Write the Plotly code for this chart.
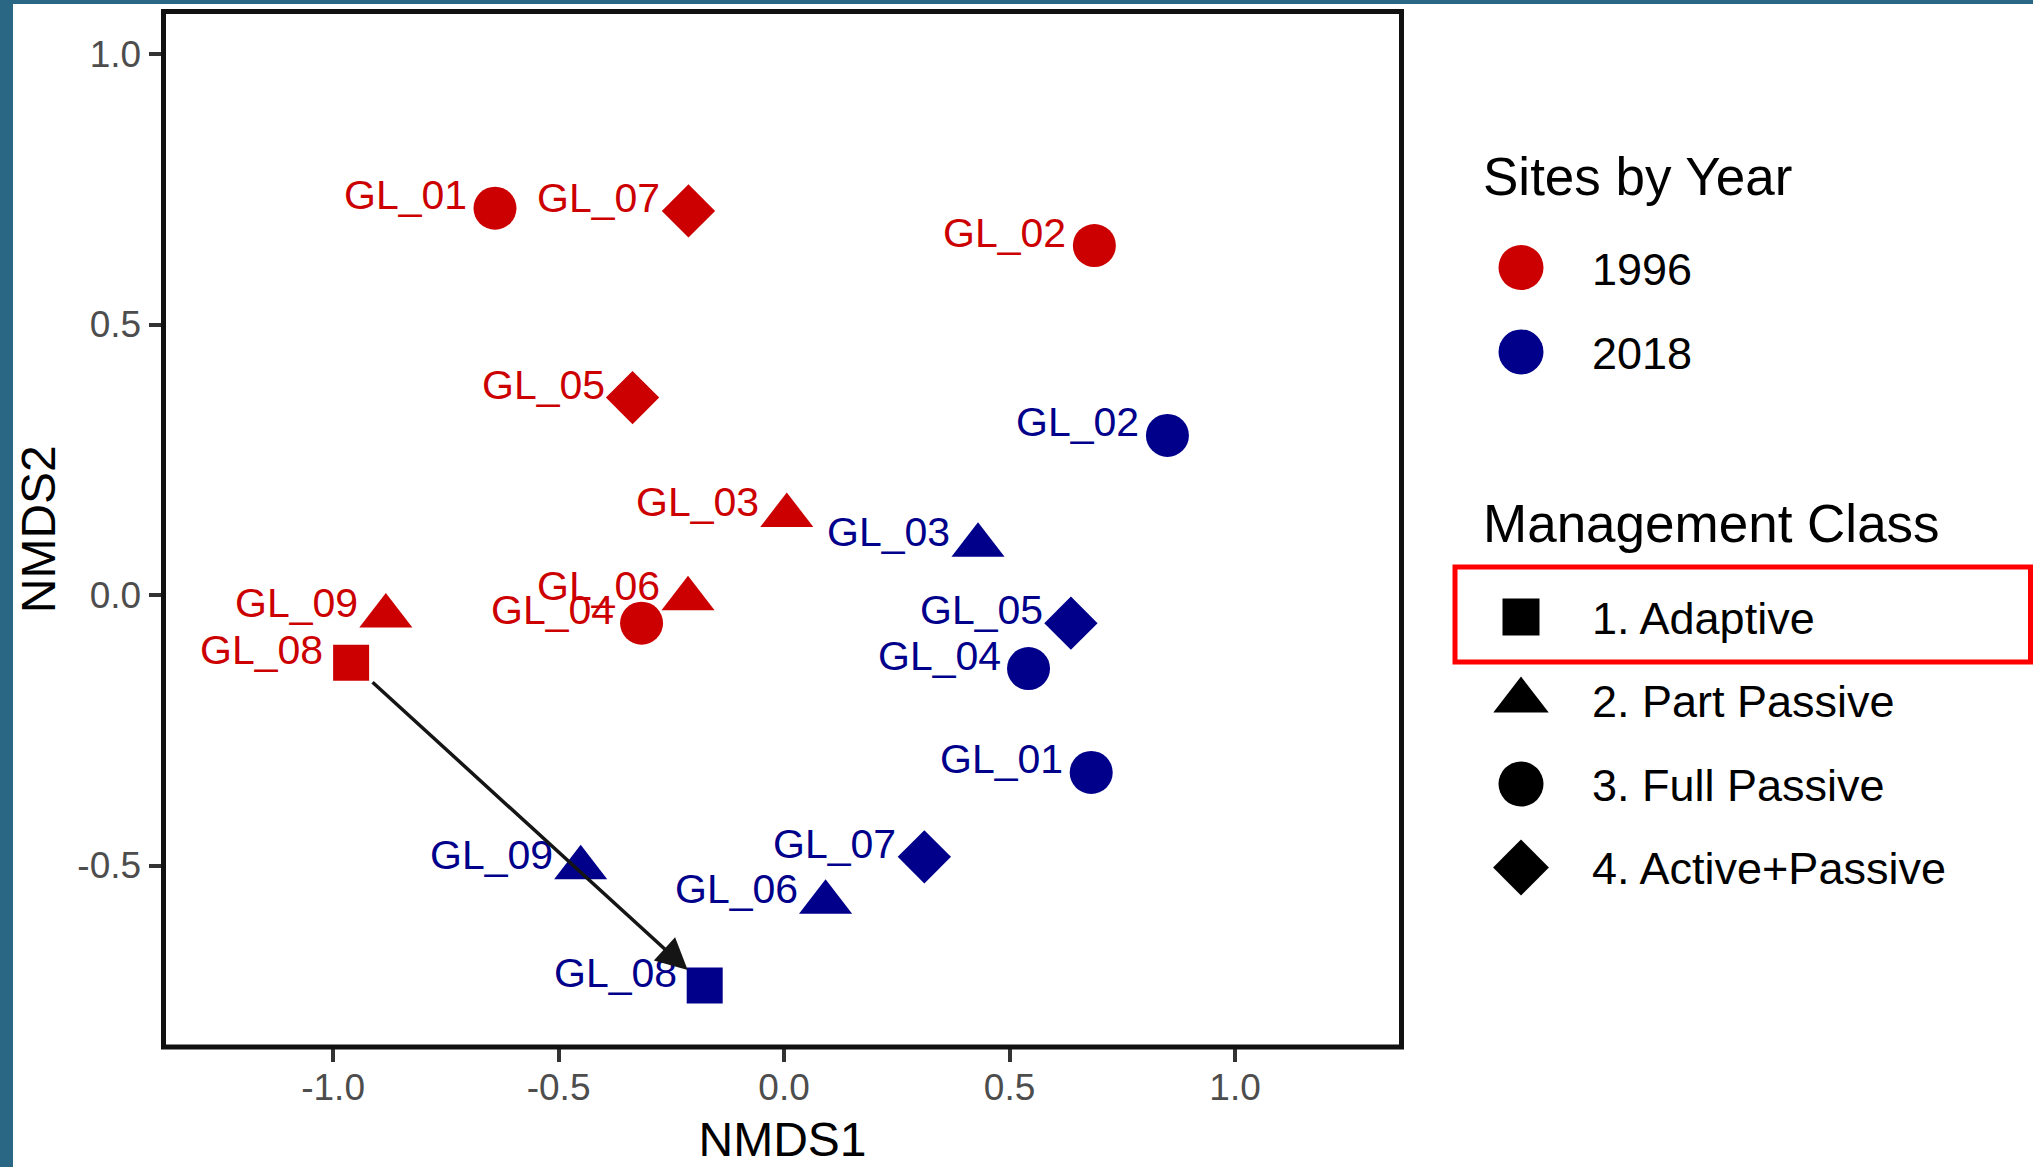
import plotly.graph_objects as go

# ---------------- data ----------------
sites = ["GL_01", "GL_02", "GL_03", "GL_04", "GL_05", "GL_06", "GL_07", "GL_08", "GL_09"]
site_class = ["3. Full Passive", "3. Full Passive", "2. Part Passive", "3. Full Passive",
              "4. Active+Passive", "2. Part Passive", "4. Active+Passive", "1. Adaptive",
              "2. Part Passive"]
nmds1_1996 = [-0.641, 0.688, 0.006, -0.316, -0.336, -0.213, -0.212, -0.960, -0.883]
nmds2_1996 = [0.715, 0.646, 0.147, -0.052, 0.365, -0.007, 0.710, -0.125, -0.039]
nmds1_2018 = [0.681, 0.850, 0.430, 0.542, 0.636, 0.092, 0.311, -0.176, -0.451]
nmds2_2018 = [-0.328, 0.295, 0.092, -0.136, -0.052, -0.568, -0.484, -0.722, -0.504]
years = ["1996", "2018"]
classes = ["1. Adaptive", "2. Part Passive", "3. Full Passive", "4. Active+Passive"]
x_ticks = [-1.0, -0.5, 0.0, 0.5, 1.0]
y_ticks = [-0.5, 0.0, 0.5, 1.0]
arrow_site = "GL_08"

# ---------------- style ----------------
W, H = 2033, 1167
FONT = "Liberation Sans, Arial, sans-serif"
year_color = {"1996": "#CC0000", "2018": "#00008B"}
class_symbol = {"1. Adaptive": "square", "2. Part Passive": "triangle-up",
                "3. Full Passive": "circle", "4. Active+Passive": "diamond"}
main_size = {"square": 36, "triangle-up": 46, "circle": 43, "diamond": 41}
leg_size = {"square": 37, "triangle-up": 48, "circle": 45, "diamond": 43}

# panel in pixels (from top-left)
PL, PR, PT, PB = 163.5, 1401.5, 11.5, 1047.0
LEG_L = 1420  # left edge (px) of the legend area

fig = go.Figure()

year_data = {"1996": (nmds1_1996, nmds2_1996), "2018": (nmds1_2018, nmds2_2018)}
annotations = []
for yr in years:
    xs, ys = year_data[yr]
    syms = [class_symbol[c] for c in site_class]
    fig.add_trace(go.Scatter(
        x=xs, y=ys, mode="markers", showlegend=False, hoverinfo="skip",
        marker=dict(symbol=syms, size=[main_size[s] for s in syms],
                    color=year_color[yr], opacity=1, line=dict(width=0)),
        xaxis="x", yaxis="y", cliponaxis=False))
    for s, xv, yv in zip(sites, xs, ys):
        annotations.append(dict(
            x=xv, y=yv, xref="x", yref="y", text=s, showarrow=False,
            xanchor="right", yanchor="middle", xshift=-26, yshift=13,
            font=dict(family=FONT, size=41, color=year_color[yr])))

# arrow between the two GL_08 positions
i8 = sites.index(arrow_site)
annotations.append(dict(
    x=nmds1_2018[i8], y=nmds2_2018[i8], ax=nmds1_1996[i8], ay=nmds2_1996[i8],
    xref="x", yref="y", axref="x", ayref="y", text="", showarrow=True,
    arrowhead=2, arrowsize=1.8, arrowwidth=3.5, arrowcolor="#151515",
    standoff=23, startstandoff=27))

# ---------------- manual legend (pixel space axis) ----------------
KEY_X = 1521
TEXT_X = 1590
YEAR_Y0, YEAR_GAP = 267.5, 84.4
CLASS_Y0, CLASS_GAP = 617.0, 83.5

fig.add_trace(go.Scatter(
    x=[KEY_X] * len(years), y=[YEAR_Y0 + i * YEAR_GAP for i in range(len(years))],
    mode="markers", showlegend=False, hoverinfo="skip",
    marker=dict(symbol="circle", size=45, color=[year_color[y] for y in years],
                opacity=1, line=dict(width=0)),
    xaxis="x2", yaxis="y2"))
fig.add_trace(go.Scatter(
    x=[KEY_X] * len(classes), y=[CLASS_Y0 + i * CLASS_GAP for i in range(len(classes))],
    mode="markers", showlegend=False, hoverinfo="skip",
    marker=dict(symbol=[class_symbol[c] for c in classes],
                size=[leg_size[class_symbol[c]] for c in classes], color="#000000",
                opacity=1, line=dict(width=0)),
    xaxis="x2", yaxis="y2"))

annotations.append(dict(x=1481, y=176.5, xref="x2", yref="y2", text="Sites by Year",
                        showarrow=False, xanchor="left", yanchor="middle",
                        font=dict(family=FONT, size=53, color="black")))
annotations.append(dict(x=1481, y=523.5, xref="x2", yref="y2", text="Management Class",
                        showarrow=False, xanchor="left", yanchor="middle",
                        font=dict(family=FONT, size=53, color="black")))
for i, yr in enumerate(years):
    annotations.append(dict(x=TEXT_X, y=YEAR_Y0 + i * YEAR_GAP + 2, xref="x2", yref="y2",
                            text=yr, showarrow=False, xanchor="left", yanchor="middle",
                            font=dict(family=FONT, size=45, color="black")))
for i, c in enumerate(classes):
    annotations.append(dict(x=TEXT_X, y=CLASS_Y0 + i * CLASS_GAP + 1, xref="x2", yref="y2",
                            text=c, showarrow=False, xanchor="left", yanchor="middle",
                            font=dict(family=FONT, size=45, color="black")))

shapes = [
    # panel border
    dict(type="rect", xref="x domain", yref="y domain", x0=0, x1=1, y0=0, y1=1,
         line=dict(color="#111111", width=5), layer="above"),
    # blue frame strips
    dict(type="rect", xref="paper", yref="paper", x0=0, x1=13 / W, y0=0, y1=1,
         fillcolor="#2A6785", line=dict(width=0), layer="above"),
    dict(type="rect", xref="paper", yref="paper", x0=0, x1=1, y0=1 - 4 / H, y1=1,
         fillcolor="#2A6785", line=dict(width=0), layer="above"),
    # red highlight box around "1. Adaptive"
    dict(type="rect", xref="paper", yref="paper", x0=1455 / W, x1=2030.5 / W,
         y0=1 - 662 / H, y1=1 - 567 / H, line=dict(color="#FF0000", width=5),
         layer="above"),
]

fig.update_layout(
    width=W, height=H, margin=dict(l=0, r=0, t=0, b=0),
    paper_bgcolor="white", plot_bgcolor="rgba(0,0,0,0)",
    font=dict(family=FONT),
    annotations=annotations, shapes=shapes,
    xaxis=dict(domain=[PL / W, PR / W], range=[-1.376, 1.369],
               tickvals=x_ticks, ticktext=[f"{v:.1f}" for v in x_ticks],
               ticks="outside", ticklen=14, tickwidth=4, tickcolor="#333333",
               ticklabelstandoff=-6,
               showgrid=False, zeroline=False, showline=False,
               tickfont=dict(size=37, color="#4D4D4D", family=FONT),
               title=dict(text="NMDS1", font=dict(size=48, color="black", family=FONT),
                          standoff=14),
               anchor="y", fixedrange=True),
    yaxis=dict(domain=[1 - PB / H, 1 - PT / H], range=[-0.8355, 1.0786],
               tickvals=y_ticks, ticktext=[f"{v:.1f}" for v in y_ticks],
               ticks="outside", ticklen=14, tickwidth=4, tickcolor="#333333",
               showgrid=False, zeroline=False, showline=False,
               tickfont=dict(size=37, color="#4D4D4D", family=FONT),
               title=dict(text="NMDS2", font=dict(size=48, color="black", family=FONT),
                          standoff=6),
               anchor="x", fixedrange=True),
    xaxis2=dict(domain=[LEG_L / W, 1], range=[LEG_L, W], visible=False, anchor="y2",
                fixedrange=True),
    yaxis2=dict(domain=[0, 1], range=[H, 0], visible=False, anchor="x2", fixedrange=True),
)

fig.write_html("out.html")
